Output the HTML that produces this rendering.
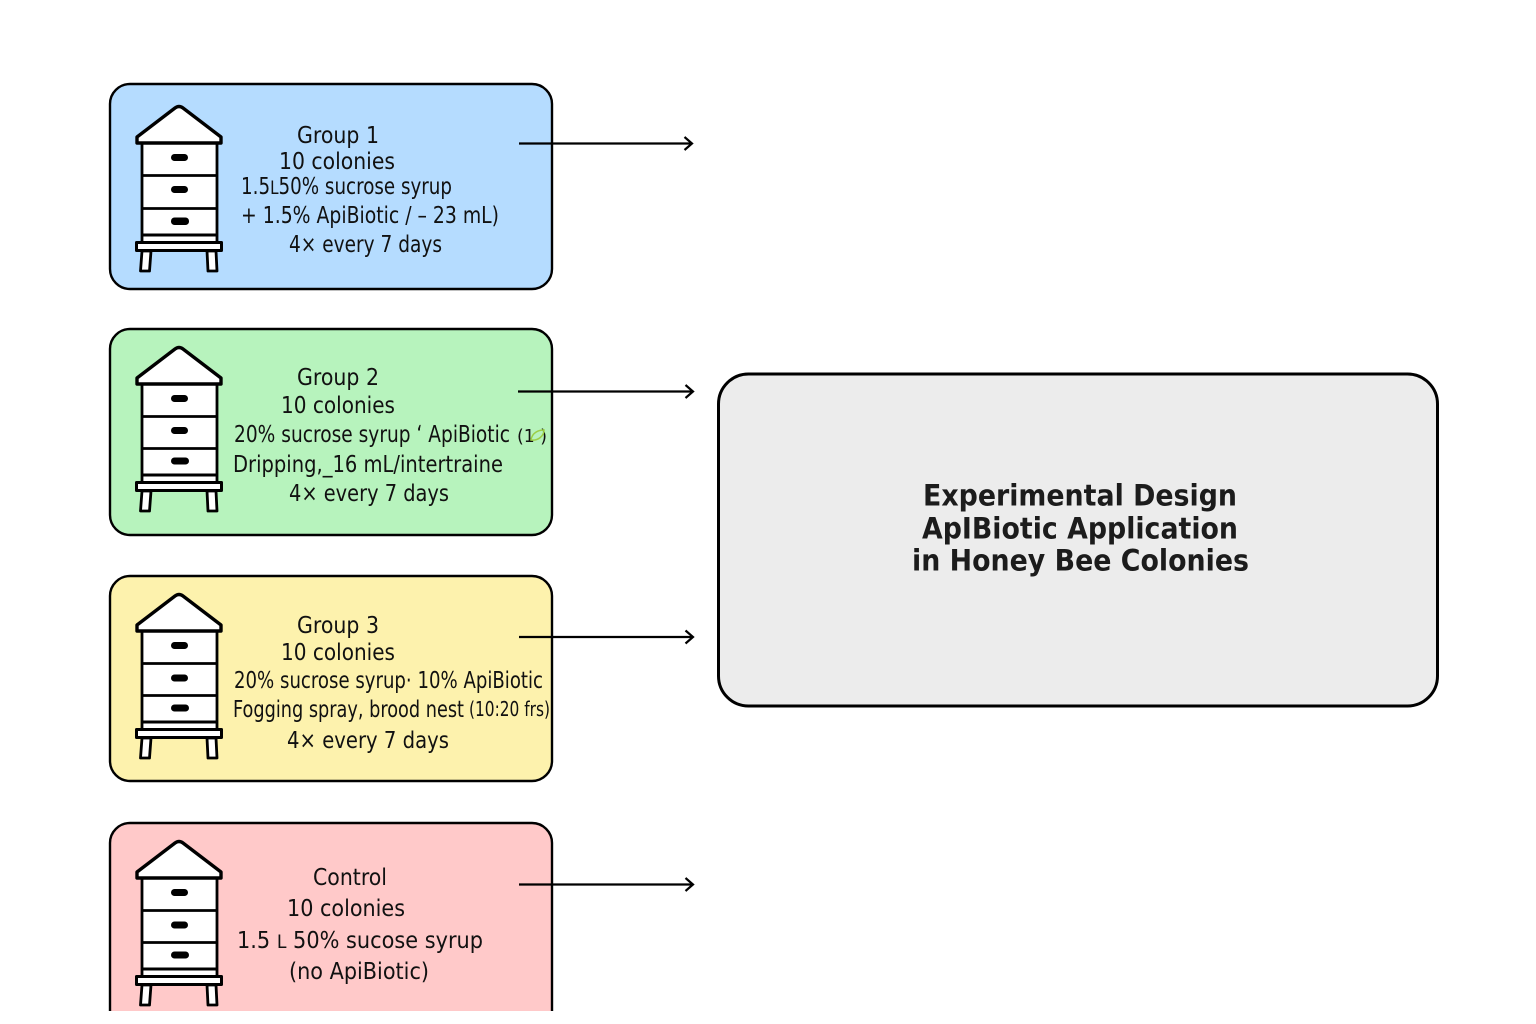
<!DOCTYPE html>
<html><head><meta charset="utf-8">
<style>
html,body{margin:0;padding:0;background:#fff}
svg{display:block}
text{font-family:"DejaVu Sans","Liberation Sans",sans-serif;fill:#111}
</style></head>
<body>
<svg width="1536" height="1024" viewBox="0 0 1536 1024" xmlns="http://www.w3.org/2000/svg">
<defs>
<clipPath id="c"><rect x="0" y="0" width="1536" height="1011"/></clipPath>
</defs>
<rect x="110" y="84" width="442" height="205" rx="20" fill="#b5dcff" stroke="#000" stroke-width="2.4"/>
<rect x="110" y="329" width="442" height="206" rx="20" fill="#b7f3bd" stroke="#000" stroke-width="2.4"/>
<rect x="110" y="576" width="442" height="205" rx="20" fill="#fdf2ad" stroke="#000" stroke-width="2.4"/>
<g clip-path="url(#c)"><rect x="110" y="823" width="442" height="230" rx="20" fill="#ffc9c9" stroke="#000" stroke-width="2.4"/></g>

<!-- hive 1 -->
<g fill="#fff" stroke="#000" stroke-width="2.8" stroke-linejoin="round">
<path d="M142 143V243H217V143Z"/><path d="M137 143V137L175 108Q179 105 183 108L221 137V143Z" stroke-width="3.4"/>
<path d="M142 175.500H217M142 208.500H217" fill="none"/><path d="M142 235H217" fill="none" stroke-width="3"/>
<rect x="136.500" y="242.500" width="85" height="8" stroke-width="3"/>
<path d="M142 251L140.500 271H149.500L151 251ZM207 251L208 271H217L216 251Z"/>
</g>
<g fill="#000"><rect x="171" y="154" width="17" height="7" rx="3.500"/><rect x="171" y="186" width="17" height="7" rx="3.500"/><rect x="171" y="217.500" width="18" height="7.500" rx="3.500"/></g>

<!-- hive 2 -->
<g fill="#fff" stroke="#000" stroke-width="2.8" stroke-linejoin="round">
<path d="M142 384V483H217V384Z"/><path d="M137 384V378L175 349Q179 346 183 349L221 378V384Z" stroke-width="3.4"/>
<path d="M142 416.500H217M142 448.500H217" fill="none"/><path d="M142 475H217" fill="none" stroke-width="3"/>
<rect x="136.500" y="482.500" width="85" height="8" stroke-width="3"/>
<path d="M142 491L140.500 511H149.500L151 491ZM207 491L208 511H217L216 491Z"/>
</g>
<g fill="#000"><rect x="171" y="395" width="17" height="7" rx="3.500"/><rect x="171" y="427" width="17" height="7" rx="3.500"/><rect x="171" y="457.500" width="18" height="7" rx="3.500"/></g>

<!-- hive 3 -->
<g fill="#fff" stroke="#000" stroke-width="2.8" stroke-linejoin="round">
<path d="M142 631V730H217V631Z"/><path d="M137 631V625L175 596Q179 593 183 596L221 625V631Z" stroke-width="3.4"/>
<path d="M142 663.500H217M142 695.500H217" fill="none"/><path d="M142 722H217" fill="none" stroke-width="3"/>
<rect x="136.500" y="729.500" width="85" height="8" stroke-width="3"/>
<path d="M142 738L140.500 758H149.500L151 738ZM207 738L208 758H217L216 738Z"/>
</g>
<g fill="#000"><rect x="171" y="642" width="17" height="7" rx="3.500"/><rect x="171" y="674.500" width="17" height="7" rx="3.500"/><rect x="171" y="704.500" width="18" height="7" rx="3.500"/></g>

<!-- hive 4 -->
<g fill="#fff" stroke="#000" stroke-width="2.8" stroke-linejoin="round">
<path d="M142 878V977H217V878Z"/><path d="M137 878V872L175 843Q179 840 183 843L221 872V878Z" stroke-width="3.4"/>
<path d="M142 910.500H217M142 942.500H217" fill="none"/><path d="M142 969H217" fill="none" stroke-width="3"/>
<rect x="136.500" y="976.500" width="85" height="8" stroke-width="3"/>
<path d="M142 985L140.500 1005H149.500L151 985ZM207 985L208 1005H217L216 985Z"/>
</g>
<g fill="#000"><rect x="171" y="889" width="17" height="7" rx="3.500"/><rect x="171" y="921.500" width="17" height="7" rx="3.500"/><rect x="171" y="951.500" width="18" height="7" rx="3.500"/></g>

<!-- arrows -->
<g fill="none" stroke="#000" stroke-width="2.200">
<path d="M519 143.500H692M684.500 137L692 143.500L684.500 150"/>
<path d="M518 391.500H693M685.500 385L693 391.500L685.500 398"/>
<path d="M519 637H693M685.500 630.500L693 637L685.500 643.500"/>
<path d="M519 884.500H693M685.500 878L693 884.500L685.500 891"/>
</g>

<!-- main box -->
<rect x="718.500" y="374" width="719" height="332" rx="30" fill="#ececec" stroke="#000" stroke-width="3"/>
<g font-weight="bold" font-size="29">
<text x="923" y="505.500" textLength="314" lengthAdjust="spacingAndGlyphs" style="fill:#1c1c1c">Experimental Design</text>
<text x="922" y="538.500" textLength="316" lengthAdjust="spacingAndGlyphs" style="fill:#1c1c1c">ApIBiotic Application</text>
<text x="912" y="570.500" textLength="337" lengthAdjust="spacingAndGlyphs" style="fill:#1c1c1c">in Honey Bee Colonies</text>
</g>

<!-- labels -->
<g font-size="23">
<text x="297" y="143" textLength="82" lengthAdjust="spacingAndGlyphs">Group 1</text>
<text x="279" y="169" textLength="116" lengthAdjust="spacingAndGlyphs">10 colonies</text>
<text x="241" y="194" textLength="211" lengthAdjust="spacingAndGlyphs">1.5<tspan font-size="19">L</tspan>50% sucrose syrup</text>
<text x="241" y="223" textLength="258" lengthAdjust="spacingAndGlyphs">+ 1.5% ApiBiotic / – 23 mL)</text>
<text x="289" y="252" textLength="153" lengthAdjust="spacingAndGlyphs">4× every 7 days</text>

<text x="297" y="385" textLength="82" lengthAdjust="spacingAndGlyphs">Group 2</text>
<text x="281" y="413" textLength="114" lengthAdjust="spacingAndGlyphs">10 colonies</text>
<text x="234" y="442" textLength="276" lengthAdjust="spacingAndGlyphs">20% sucrose syrup ʻ ApiBiotic</text>
<text x="517" y="442" font-size="18" textLength="30" lengthAdjust="spacingAndGlyphs">(1  )</text>
<text x="233" y="472" textLength="270" lengthAdjust="spacingAndGlyphs">Dripping,_16 mL/intertraine</text>
<text x="289" y="501" textLength="160" lengthAdjust="spacingAndGlyphs">4× every 7 days</text>

<text x="297" y="633" textLength="82" lengthAdjust="spacingAndGlyphs">Group 3</text>
<text x="281" y="660" textLength="114" lengthAdjust="spacingAndGlyphs">10 colonies</text>
<text x="234" y="688" textLength="309" lengthAdjust="spacingAndGlyphs">20% sucrose syrup· 10% ApiBiotic</text>
<text x="233" y="717" textLength="231" lengthAdjust="spacingAndGlyphs">Fogging spray, brood nest</text>
<text x="469" y="716" font-size="20" textLength="81" lengthAdjust="spacingAndGlyphs">(10:20 frs)</text>
<text x="287" y="748" textLength="162" lengthAdjust="spacingAndGlyphs">4× every 7 days</text>

<text x="313" y="885" textLength="74" lengthAdjust="spacingAndGlyphs">Control</text>
<text x="287" y="916" textLength="118" lengthAdjust="spacingAndGlyphs">10 colonies</text>
<text x="237" y="948" textLength="246" lengthAdjust="spacingAndGlyphs">1.5 <tspan font-size="19">L</tspan> 50% sucose syrup</text>
<text x="289" y="979" textLength="140" lengthAdjust="spacingAndGlyphs">(no ApiBiotic)</text>
</g>
<path d="M531 440C532 433 538 430 544 430C544 436 538 441 531 440Z" fill="none" stroke="#9ccf45" stroke-width="1.500"/>
</svg>
</body></html>
